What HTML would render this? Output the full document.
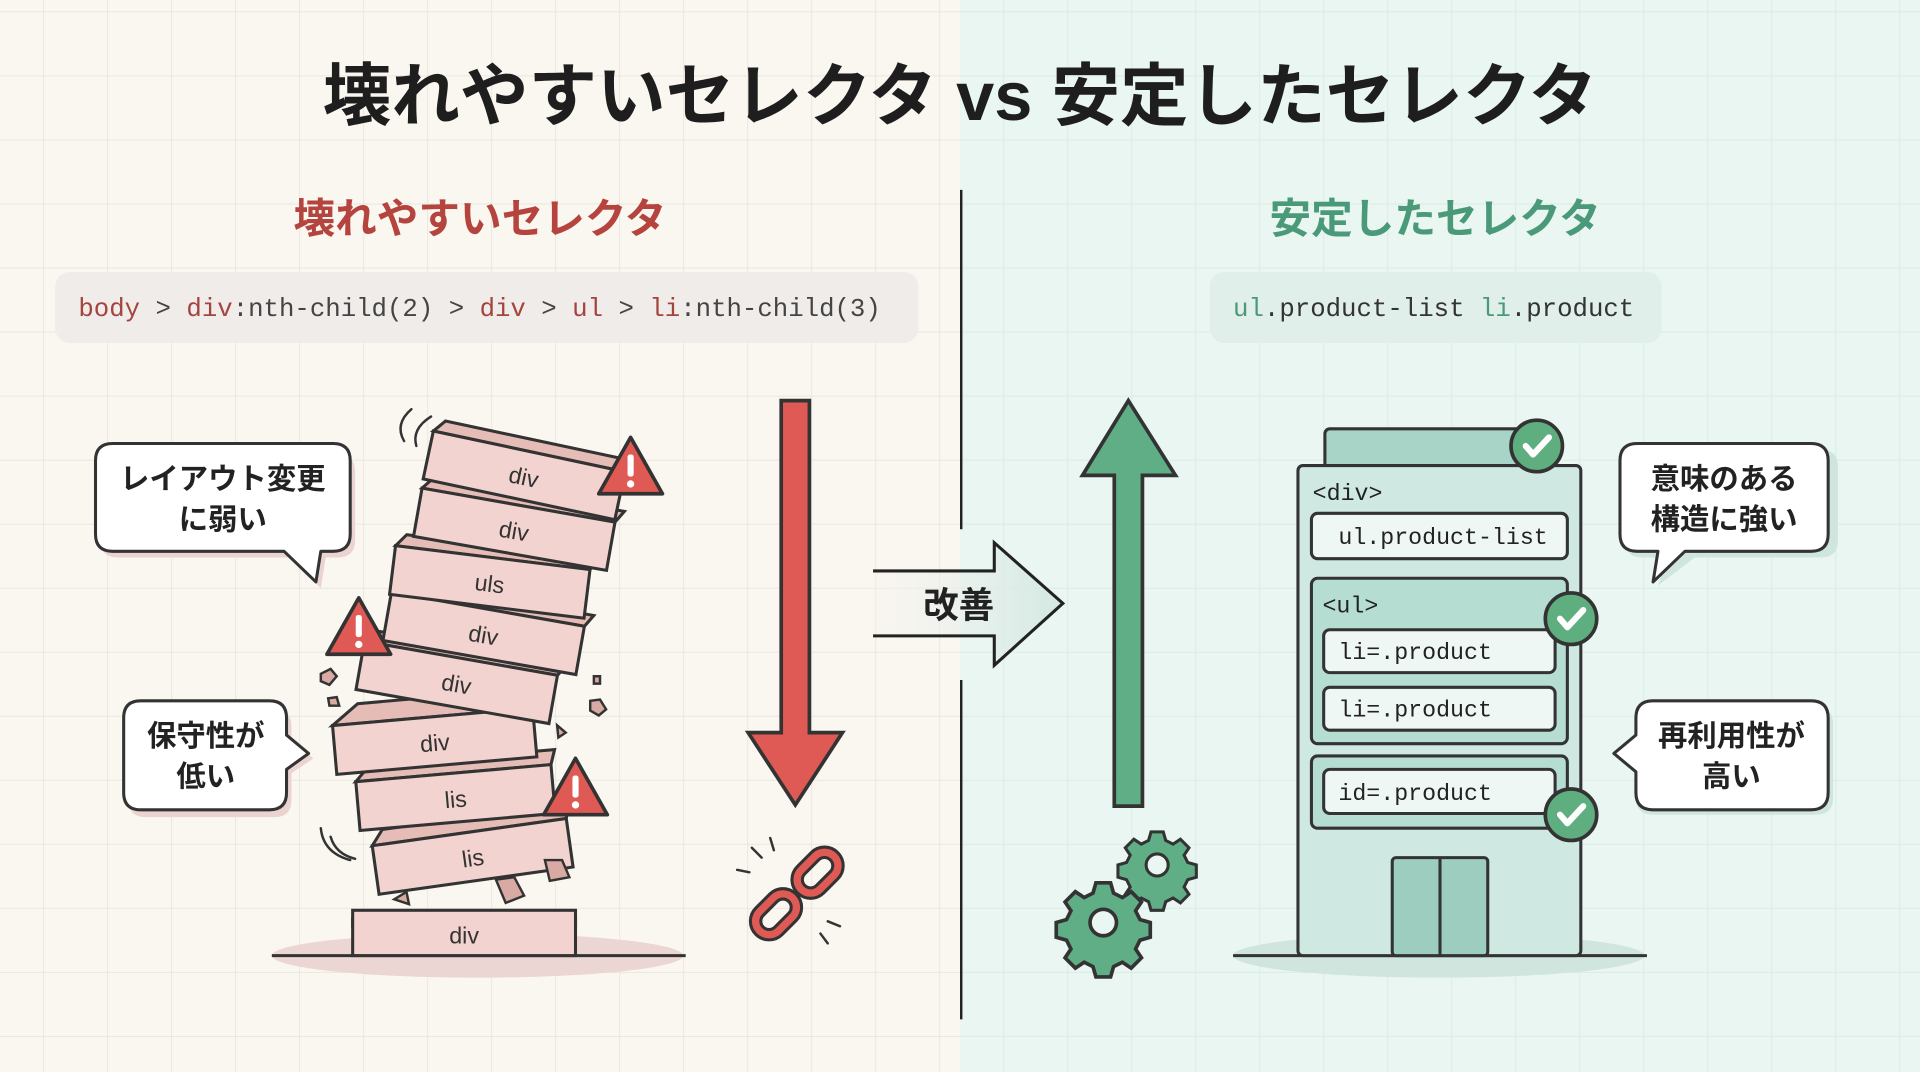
<!DOCTYPE html>
<html><head><meta charset="utf-8"><style>
html,body{margin:0;padding:0;width:1920px;height:1072px;overflow:hidden;background:#faf6f0}
svg{display:block}
.jp{font-family:"Liberation Sans","Noto Sans CJK JP",sans-serif;font-weight:bold}
.mono{font-family:"Liberation Mono","DejaVu Sans Mono",monospace}
</style></head><body>
<svg width="1920" height="1072" viewBox="0 0 1568 875" preserveAspectRatio="none" xmlns="http://www.w3.org/2000/svg">
<defs>
<pattern id="g" width="52.27" height="52.27" patternUnits="userSpaceOnUse" x="36" y="10">
<path d="M52.27 0V52.27M0 52.27H52.27" stroke="#e6e2da" stroke-width="1.2" fill="none"/>
</pattern>
<pattern id="g2" width="52.27" height="52.27" patternUnits="userSpaceOnUse" x="36" y="10">
<path d="M52.27 0V52.27M0 52.27H52.27" stroke="#d7e8e2" stroke-width="1.2" fill="none"/>
</pattern>
<linearGradient id="ag" x1="0" x2="1"><stop offset="0" stop-color="#f6f4f0" stop-opacity="0.3"/><stop offset="1" stop-color="#d4e8e2"/></linearGradient>
<g id="warn"><path d="M0,-26 L26,20 L-26,20Z" fill="#e05a55" stroke="#333" stroke-width="3" stroke-linejoin="round"/><rect x="-2.5" y="-12" width="5" height="18" rx="2" fill="#fff"/><circle cx="0" cy="12" r="3" fill="#fff"/></g>
<g id="chk"><circle r="21" fill="#5fae7f" stroke="#333" stroke-width="3"/><path d="M-9,0 L-3,7 L10,-7" fill="none" stroke="#fff" stroke-width="5" stroke-linecap="round" stroke-linejoin="round"/></g>
</defs>
<rect x="0" y="0" width="784" height="875" fill="#faf6f0"/>
<rect x="784" y="0" width="784" height="875" fill="#eaf6f2"/>
<rect x="0" y="0" width="784" height="875" fill="url(#g)"/>
<rect x="784" y="0" width="784" height="875" fill="url(#g2)"/>

<text x="784" y="98" text-anchor="middle" class="jp" font-size="56" fill="#1e1e1e">壊れやすいセレクタ vs 安定したセレクタ</text>
<line x1="785" y1="155" x2="785" y2="432" stroke="#222" stroke-width="2"/>
<line x1="785" y1="555" x2="785" y2="832" stroke="#222" stroke-width="2"/>

<text x="392" y="190" text-anchor="middle" class="jp" font-size="34" fill="#b5443f">壊れやすいセレクタ</text>
<text x="1172" y="190" text-anchor="middle" class="jp" font-size="34" fill="#4a9a7a">安定したセレクタ</text>

<rect x="45" y="222" width="705" height="58" rx="12" fill="#efecea"/>
<text x="64" y="258" class="mono" font-size="21" fill="#444"><tspan fill="#a5443f">body</tspan> &gt; <tspan fill="#a5443f">div</tspan>:nth-child(2) &gt; <tspan fill="#a5443f">div</tspan> &gt; <tspan fill="#a5443f">ul</tspan> &gt; <tspan fill="#a5443f">li</tspan>:nth-child(3)</text>
<rect x="988" y="222" width="369" height="58" rx="12" fill="#e1efeb"/>
<text x="1007" y="258" class="mono" font-size="21" fill="#333"><tspan fill="#4a9a7a">ul</tspan>.product-list <tspan fill="#4a9a7a">li</tspan>.product</text>

<!-- red arrow -->
<path d="M638,327 H661 V598 H688 L649.5,657 L611,598 H638Z" fill="#e05a55" stroke="#333" stroke-width="3" stroke-linejoin="miter"/>
<!-- green arrow -->
<path d="M910,658 H933 V388 H960 L921.5,327 L884,388 H910Z" fill="#5fae85" stroke="#333" stroke-width="3"/>
<!-- improve arrow -->
<path d="M713,466 H812 V443 L868,492.5 L812,543 V519 H713Z" fill="url(#ag)"/>
<path d="M713,466 H812 V443 L868,492.5 L812,543 V519 H713" fill="none" stroke="#222" stroke-width="2.5"/>
<text x="783" y="504" text-anchor="middle" class="jp" font-size="29" fill="#222">改善</text>

<!-- tower -->
<ellipse cx="390" cy="780" rx="168" ry="18" fill="#ecd6d3"/>
<line x1="222" y1="780" x2="560" y2="780" stroke="#333" stroke-width="2.5"/>
<g stroke="#333" stroke-width="2.5" fill="#f2d3cf" class="jp">
<g transform="translate(379,762)"><rect x="-91" y="-12" width="182" height="6" fill="#e6bcb6"/><rect x="-91" y="-19" width="182" height="37"/><text y="8" text-anchor="middle" font-size="19" fill="#333" stroke="none" font-weight="normal">div</text></g>
<g transform="translate(386,699) rotate(-8)"><path d="M-80,-20 L-70,-32 H84 L80,-20Z" fill="#e6bcb6"/><rect x="-80" y="-20" width="160" height="40"/><text y="8" text-anchor="middle" font-size="19" fill="#333" stroke="none" font-weight="normal">lis</text></g>
<g transform="translate(372,651) rotate(-5)"><path d="M-80,-20 L-68,-32 H84 L80,-20Z" fill="#e6bcb6"/><rect x="-80" y="-20" width="160" height="40"/><text y="8" text-anchor="middle" font-size="19" fill="#333" stroke="none" font-weight="normal">lis</text></g>
<g transform="translate(355,605) rotate(-5)"><path d="M-82,-20 L-60,-36 H80 L82,-20Z" fill="#e6bcb6"/><rect x="-82" y="-20" width="164" height="40"/><text y="8" text-anchor="middle" font-size="19" fill="#333" stroke="none" font-weight="normal">div</text></g>
<g transform="translate(373,557) rotate(10)"><path d="M-80,-20 L-72,-30 H86 L80,-20Z" fill="#e6bcb6"/><rect x="-80" y="-20" width="160" height="40"/><text y="8" text-anchor="middle" font-size="19" fill="#333" stroke="none" font-weight="normal">div</text></g>
<g transform="translate(395,517) rotate(10)"><path d="M-80,-20 L-72,-30 H86 L80,-20Z" fill="#e6bcb6"/><rect x="-80" y="-20" width="160" height="40"/><text y="8" text-anchor="middle" font-size="19" fill="#333" stroke="none" font-weight="normal">div</text></g>
<g transform="translate(400,475) rotate(7)"><path d="M-80,-20 L-72,-30 H86 L80,-20Z" fill="#e6bcb6"/><rect x="-80" y="-20" width="160" height="40"/><text y="8" text-anchor="middle" font-size="19" fill="#333" stroke="none" font-weight="normal">uls</text></g>
<g transform="translate(420,432) rotate(10)"><path d="M-80,-20 L-72,-30 H86 L80,-20Z" fill="#e6bcb6"/><rect x="-80" y="-20" width="160" height="40"/><text y="8" text-anchor="middle" font-size="19" fill="#333" stroke="none" font-weight="normal">div</text></g>
<g transform="translate(428,388) rotate(12)"><path d="M-80,-20 L-72,-30 H86 L80,-20Z" fill="#e6bcb6"/><rect x="-80" y="-20" width="160" height="40"/><text y="8" text-anchor="middle" font-size="19" fill="#333" stroke="none" font-weight="normal">div</text></g>
</g>
<g fill="#d9aaa4" stroke="#333" stroke-width="2">
<path d="M262,550 l8,-4 5,6 -6,7 -7,-3Z"/><path d="M268,570 l7,-1 2,7 -8,0Z"/><path d="M485,552 l5,0 0,6 -5,0Z"/><path d="M482,572 l8,-1 5,8 -6,5 -7,-4Z"/><path d="M455,592 l7,6 -6,4Z"/><path d="M322,734 l10,-6 2,10Z"/><path d="M405,718 l15,-2 8,15 -15,6Z"/><path d="M445,702 l14,0 6,14 -16,3Z"/>
</g>
<g stroke="#333" stroke-width="2" fill="none" stroke-linecap="round">
<path d="M330,360 q-8,-14 6,-26"/><path d="M340,364 q-4,-14 12,-24"/><path d="M270,683 q4,14 20,18"/><path d="M262,676 q2,20 24,26"/>
</g>
<use href="#warn" x="515" y="383"/>
<use href="#warn" x="293" y="514"/>
<use href="#warn" x="470" y="645"/>

<!-- chain -->
<g transform="translate(650,730) rotate(-45)" fill="none" stroke-linejoin="round">
<rect x="-42" y="-11" width="38" height="22" rx="11" stroke="#333" stroke-width="11"/>
<rect x="-42" y="-11" width="38" height="22" rx="11" stroke="#e05a55" stroke-width="6"/>
<rect x="6" y="-11" width="38" height="22" rx="11" stroke="#333" stroke-width="11"/>
<rect x="6" y="-11" width="38" height="22" rx="11" stroke="#e05a55" stroke-width="6"/>
</g>
<g stroke="#333" stroke-width="2" stroke-linecap="round"><path d="M622,700 l-8,-8"/><path d="M632,694 l-3,-10"/><path d="M612,712 l-10,-2"/><path d="M676,752 l10,4"/><path d="M670,762 l6,8"/></g>

<!-- left bubbles -->
<g stroke="#333" stroke-width="2.5" fill="#fff" stroke-linejoin="round">
<path d="M92,366 H272 Q286,366 286,380 V436 Q286,450 272,450 H262 L258,475 L232,450 H92 Q78,450 78,436 V380 Q78,366 92,366Z" transform="translate(4,5)" fill="#ead3d0" stroke="none"/>
<path d="M92,362 H272 Q286,362 286,376 V436 Q286,450 272,450 H262 L258,475 L232,450 H92 Q78,450 78,436 V376 Q78,362 92,362Z"/>
<path d="M115,577 H220 Q234,577 234,591 V603 L252,617 L234,629 V651 Q234,665 220,665 H115 Q101,665 101,651 V591 Q101,577 115,577Z" fill="#ead3d0" stroke="none" transform="translate(4,2)"/>
<path d="M115,572 H220 Q234,572 234,586 V600 L252,615 L234,628 V647 Q234,661 220,661 H115 Q101,661 101,647 V586 Q101,572 115,572Z"/>
</g>
<g class="jp" font-size="24" fill="#222" text-anchor="middle">
<text x="182" y="399">レイアウト変更</text><text x="182" y="432">に弱い</text>
<text x="168" y="609">保守性が</text><text x="168" y="642">低い</text>
</g>

<!-- building -->
<ellipse cx="1175" cy="780" rx="168" ry="18" fill="#cfe5dd"/>
<line x1="1007" y1="780" x2="1345" y2="780" stroke="#333" stroke-width="2.5"/>
<g stroke="#333" stroke-width="2.5">
<rect x="1082" y="350" width="178" height="34" rx="4" fill="#a8d4c8"/>
<rect x="1060" y="380" width="231" height="400" rx="4" fill="#cfe8e1"/>
<rect x="1071" y="419" width="209" height="37" rx="5" fill="#eef7f4"/>
<rect x="1071" y="472" width="209" height="135" rx="5" fill="#b6ddd2"/>
<rect x="1081" y="514" width="189" height="35" rx="5" fill="#eef7f4"/>
<rect x="1081" y="561" width="189" height="35" rx="5" fill="#eef7f4"/>
<rect x="1071" y="617" width="209" height="59" rx="5" fill="#b6ddd2"/>
<rect x="1081" y="628" width="189" height="36" rx="5" fill="#eef7f4"/>
<rect x="1137" y="700" width="78" height="80" rx="3" fill="#9ccdbf"/>
<line x1="1176" y1="700" x2="1176" y2="780"/>
</g>
<g font-size="19" fill="#222">
<text x="1072" y="408" class="mono">&lt;div&gt;</text>
<text x="1080" y="500" class="mono">&lt;ul&gt;</text>
<text x="1093" y="444" class="mono">ul.product-list</text>
<text x="1093" y="538" class="mono">li=.product</text>
<text x="1093" y="585" class="mono">li=.product</text>
<text x="1093" y="653" class="mono">id=.product</text>
</g>
<use href="#chk" x="1255" y="364"/>
<use href="#chk" x="1283" y="505"/>
<use href="#chk" x="1283" y="665"/>

<!-- gears -->
<g fill="#5fae85" stroke="#333" stroke-width="2.5">
<g transform="translate(945,706)"><path d="M-5,-27 h10 l2,7 6,3 6,-4 7,7 -4,6 3,6 7,2 v10 l-7,2 -3,6 4,6 -7,7 -6,-4 -6,3 -2,7 h-10 l-2,-7 -6,-3 -6,4 -7,-7 4,-6 -3,-6 -7,-2 v-10 l7,-2 3,-6 -4,-6 7,-7 6,4 6,-3Z"/><circle r="9" fill="#eaf6f2"/></g>
<g transform="translate(901,753) scale(1.2)"><path d="M-5,-27 h10 l2,7 6,3 6,-4 7,7 -4,6 3,6 7,2 v10 l-7,2 -3,6 4,6 -7,7 -6,-4 -6,3 -2,7 h-10 l-2,-7 -6,-3 -6,4 -7,-7 4,-6 -3,-6 -7,-2 v-10 l7,-2 3,-6 -4,-6 7,-7 6,4 6,-3Z"/><circle r="9" fill="#eaf6f2"/></g>
</g>

<!-- right bubbles -->
<g stroke="#333" stroke-width="2.5" fill="#fff" stroke-linejoin="round">
<path d="M1337,367 H1483 Q1497,367 1497,381 V441 Q1497,455 1483,455 H1380 L1350,478 L1358,455 H1337 Q1323,455 1323,441 V381 Q1323,367 1337,367Z" fill="#cfe5dd" stroke="none" transform="translate(4,0)"/>
<path d="M1337,362 H1479 Q1493,362 1493,376 V436 Q1493,450 1479,450 H1376 L1350,475 L1354,450 H1337 Q1323,450 1323,436 V376 Q1323,362 1337,362Z"/>
<path d="M1350,577 H1483 Q1497,577 1497,591 V651 Q1497,665 1483,665 H1350 Q1336,665 1336,651 Z" fill="#cfe5dd" stroke="none"/>
<path d="M1350,572 H1479 Q1493,572 1493,586 V647 Q1493,661 1479,661 H1350 Q1336,661 1336,647 V630 L1318,615 L1336,600 V586 Q1336,572 1350,572Z"/>
</g>
<g class="jp" font-size="24" fill="#222" text-anchor="middle">
<text x="1408" y="399">意味のある</text><text x="1408" y="432">構造に強い</text>
<text x="1414" y="609">再利用性が</text><text x="1414" y="642">高い</text>
</g>
</svg>
</body></html>
